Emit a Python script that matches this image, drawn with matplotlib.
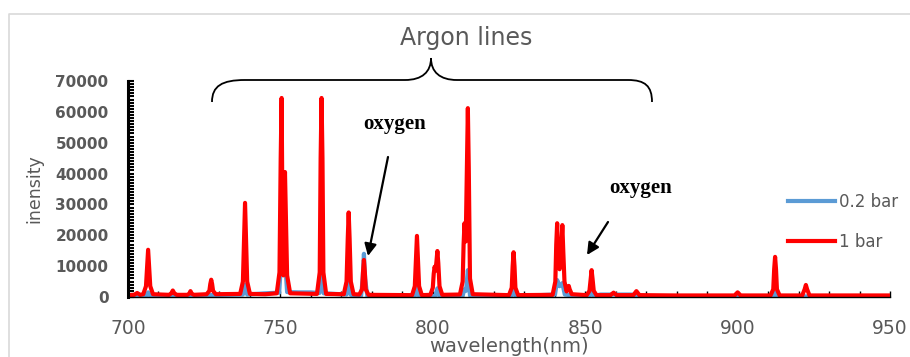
import matplotlib
matplotlib.use("Agg")
import matplotlib.pyplot as plt
from matplotlib.patches import PathPatch
from matplotlib.path import Path
from matplotlib.ticker import MultipleLocator

# 1 bar spectrum (red)
wl_1bar = [700, 702, 703, 704,
           705.0, 705.9, 706.3, 706.6, 706.9, 707.3, 708.2,
           713.5, 714.2, 714.7, 715.2, 716.0,
           719.5, 720.1, 720.5, 720.9, 721.6,
           725.8, 726.7, 727.0, 727.3, 727.6, 727.9, 728.8,
           736.8, 737.7, 738.1, 738.4, 738.7, 739.1, 740.0, 745,
           748.8, 749.7, 750.1, 750.4, 750.7, 750.95, 751.2, 751.5, 751.8, 752.2, 753.2,
           762.0, 762.9, 763.2, 763.5, 763.8, 764.1, 765.0,
           770.8, 771.7, 772.1, 772.4, 772.7, 773.1, 774.0,
           775.9, 776.8, 777.1, 777.4, 777.7, 778.0, 778.9,
           793.2, 794.1, 794.5, 794.8, 795.1, 795.5, 796.4,
           799.2, 800.0, 800.3, 800.6, 800.9, 801.2, 801.5, 801.8, 802.2, 803.1,
           808.9, 809.8, 810.1, 810.4, 810.8, 811.2, 811.5, 811.8, 812.2, 813.1,
           825.0, 825.9, 826.2, 826.5, 826.8, 827.1, 828.0,
           839.3, 840.2, 840.5, 840.8, 841.1, 841.6, 842.2, 842.5, 842.8, 843.2,
           843.9, 844.3, 844.6, 844.9, 845.6,
           850.5, 851.4, 851.8, 852.1, 852.4, 852.8, 853.7,
           858.3, 859.3, 860.3, 865.8, 866.8, 867.8, 880,
           899.0, 900.0, 901.0,
           910.8, 911.7, 912.0, 912.3, 912.6, 912.9, 913.8,
           921.2, 922.0, 922.4, 922.8, 923.6, 935, 950]
int_1bar = [600, 700, 1300, 700,
            900, 3500, 10000, 15300, 10000, 3500, 900,
            700, 1200, 2100, 1200, 700,
            700, 1100, 1900, 1100, 700,
            900, 2000, 4200, 5600, 4200, 2000, 900,
            1000, 5000, 20000, 30500, 20000, 5000, 1000, 900,
            1200, 8000, 45000, 64500, 22000, 7000, 24000, 40500, 26000, 7000, 1200,
            1000, 8000, 45000, 64500, 45000, 8000, 1000,
            900, 5000, 19000, 27400, 19000, 5000, 900,
            800, 2500, 8000, 12000, 8000, 2500, 700,
            600, 3500, 13000, 19800, 13000, 3500, 600,
            700, 3000, 7500, 9800, 8500, 11500, 14900, 11000, 3500, 700,
            800, 5000, 17000, 23900, 18000, 42000, 61200, 42000, 6000, 900,
            600, 3000, 10000, 14500, 10000, 3000, 600,
            700, 5000, 17000, 23900, 14000, 9000, 17000, 23300, 15000, 5000,
            1800, 2800, 3600, 2500, 900,
            600, 2000, 6000, 8700, 6000, 2000, 600,
            600, 1400, 600, 600, 1900, 600, 500,
            500, 1500, 500,
            500, 2500, 9000, 13000, 9000, 2500, 500,
            500, 2500, 3900, 2500, 500, 500, 500]

# 0.2 bar spectrum (blue)
wl_02bar = [700, 705.9, 706.6, 707.3, 737.7, 738.4, 739.1, 745,
            749.6, 750.4, 750.95, 751.5, 752.2, 756, 760,
            762.8, 763.5, 764.2, 771.7, 772.4, 773.1,
            776.5, 777.0, 777.4, 777.8, 778.5,
            794.1, 794.8, 795.5, 800.8, 801.5, 802.2,
            809.8, 810.4, 810.9, 811.5, 812.2,
            825.8, 826.5, 827.2, 840.1, 840.8, 841.6, 842.5, 843.3, 845,
            851.4, 852.1, 852.8, 855, 865, 870,
            911.6, 912.3, 913.0, 950]
int_02bar = [300, 300, 1500, 300, 800, 4000, 800, 1200,
             1400, 14000, 29500, 12000, 1600, 1500, 1500,
             1300, 13000, 1200, 800, 4500, 700,
             500, 6000, 14000, 6000, 400,
             300, 3500, 300, 300, 2800, 300,
             500, 2500, 2000, 8700, 500,
             300, 2500, 300, 800, 5500, 3500, 4500, 800, 600,
             300, 1800, 300, 800, 800, 300,
             200, 1500, 200, 200]

x_ticks = [700, 750, 800, 850, 900, 950]
y_ticks = [0, 10000, 20000, 30000, 40000, 50000, 60000, 70000]

gray = '#595959'

fig = plt.figure(figsize=(9.1, 3.57), dpi=100)
px = fig.dpi_scale_trans


def P(x, y):
    # figure pixels measured from top-left -> inches from bottom-left
    return (x / 100.0, (357 - y) / 100.0)


# background axes in pixel units for the light chart border (top + left edge)
bg = fig.add_axes([0, 0, 1, 1])
bg.set_xlim(0, 910)
bg.set_ylim(357, 0)
bg.axis('off')
bg.plot([8.5, 8.5, 915], [360, 13.5, 13.5], color='#D9D9D9', lw=1.2)

ax = fig.add_axes([128 / 910, 1 - 297 / 357, 762 / 910, 216 / 357])
ax.patch.set_alpha(0)
ax.plot(wl_02bar, int_02bar, color='#5B9BD5', lw=3, label='0.2 bar')
ax.plot(wl_1bar, int_1bar, color='#FF0000', lw=3, label='1 bar')

ax.set_xlim(700, 950)
ax.set_ylim(0, 70000)
ax.set_xticks(x_ticks)
ax.set_yticks(y_ticks)
ax.xaxis.set_minor_locator(MultipleLocator(10))
ax.yaxis.set_minor_locator(MultipleLocator(1000))
for s in ['top', 'right']:
    ax.spines[s].set_visible(False)
ax.spines['left'].set_linewidth(2.2)
ax.spines['bottom'].set_linewidth(1.0)
ax.tick_params(axis='y', which='both', direction='in', length=4, width=1.5,
               colors='black', labelcolor=gray, labelsize=11, pad=14)
ax.tick_params(axis='x', which='both', direction='in', length=4, width=1.0,
               colors='black', labelcolor=gray, labelsize=13.5, pad=16)
for lab in ax.get_yticklabels():
    lab.set_fontweight('bold')
ax.set_xlabel('wavelength(nm)', fontsize=14, color=gray, labelpad=-1)
ax.set_ylabel('inensity', fontsize=12.5, color=gray)
ax.yaxis.set_label_coords(-(128 - 43) / 762, 0.5)

ax.legend(loc='upper left', bbox_to_anchor=(788 / 910, 1 - 193 / 357),
          bbox_transform=fig.transFigure, frameon=False, fontsize=12,
          handlelength=2.8, handletextpad=0.25, labelspacing=1.3,
          borderpad=0, borderaxespad=0, labelcolor=gray)

# brace over the argon lines
brace = [(212, 102), (212, 86), (222, 80), (245, 80),
         (405, 80),
         (422, 80), (431, 72), (431, 58),
         (431, 72), (440, 80), (457, 80),
         (628, 80),
         (645, 80), (652, 86), (652, 102)]
codes = [Path.MOVETO, Path.CURVE4, Path.CURVE4, Path.CURVE4,
         Path.LINETO,
         Path.CURVE4, Path.CURVE4, Path.CURVE4,
         Path.CURVE4, Path.CURVE4, Path.CURVE4,
         Path.LINETO,
         Path.CURVE4, Path.CURVE4, Path.CURVE4]
fig.add_artist(PathPatch(Path([P(*v) for v in brace], codes), transform=px,
                         fill=False, edgecolor='black', lw=1.3))
fig.text(*P(466, 38), 'Argon lines', transform=px, ha='center', va='center',
         fontsize=17, color=gray)

# oxygen labels + arrows
for tx, ty, tail, tip in [(395, 124, (388, 157), (368, 256)),
                          (641, 188, (608, 222), (587, 255))]:
    fig.text(*P(tx, ty), 'oxygen', transform=px, ha='center', va='center',
             fontsize=15, fontweight='bold', family='Liberation Serif')
    ax.annotate('', xy=P(*tip), xycoords=px, xytext=P(*tail), textcoords=px,
                arrowprops=dict(arrowstyle='-|>', color='black', lw=1.6,
                                mutation_scale=18, shrinkA=0, shrinkB=0))

fig.savefig('out.png', dpi=100)
